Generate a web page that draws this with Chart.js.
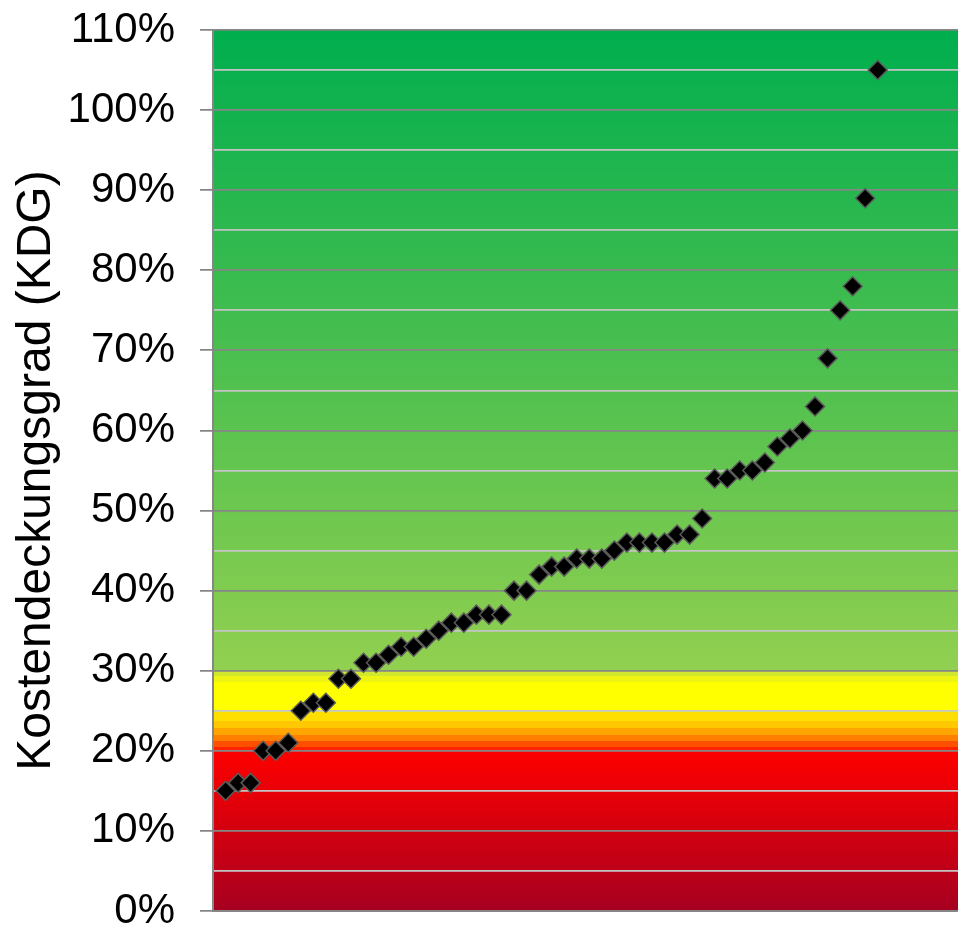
<!DOCTYPE html>
<html>
<head>
<meta charset="utf-8">
<script src="https://cdn.jsdelivr.net/npm/chart.js@4.4.1/dist/chart.umd.min.js"></script>
<style>
  html, body { margin: 0; padding: 0; background: #ffffff; }
  #wrap { width: 958px; height: 928px; position: relative; }
</style>
</head>
<body>
<div id="wrap"><canvas id="c"></canvas></div>
<script>
// KDG values (percent), sorted as in the reference
const kdgValues = [15, 16, 16, 20, 20, 21, 25, 26, 26, 29, 29, 31, 31, 32, 33, 33, 34, 35, 36, 36,
  37, 37, 37, 40, 40, 42, 43, 43, 44, 44, 44, 45, 46, 46, 46, 46, 47, 47, 49, 54,
  54, 55, 55, 56, 58, 59, 60, 63, 69, 75, 78, 89, 105];
const categories = kdgValues.map((_, i) => i + 1);
const yTickValues = [0, 10, 20, 30, 40, 50, 60, 70, 80, 90, 100, 110];
const axisTitle = 'Kostendeckungsgrad (KDG)';

// background bands: [value, colour]
const bgStops = [
  [0, '#a60021'], [10, '#d3000f'], [19.99, '#fd0000'],
  [20, '#ff2200'], [20.5, '#ff2200'], [20.5, '#ff5000'], [21.2, '#ff5000'],
  [21.2, '#ff7f00'], [22, '#ff7f00'], [22, '#ffa500'], [22.8, '#ffa500'],
  [22.8, '#ffc800'], [23.7, '#ffc800'], [23.7, '#ffdf00'], [24.8, '#ffdf00'],
  [24.8, '#ffff00'], [28.6, '#ffff00'], [28.6, '#eef512'], [29.3, '#eef512'],
  [29.3, '#d2e82c'], [29.95, '#d2e82c'], [30, '#92d050'], [110, '#00ae4e']
];

const bgPlugin = {
  id: 'bgBands',
  beforeDraw(chart) {
    const {ctx, chartArea} = chart;
    const y = chart.scales.y;
    const y0 = y.getPixelForValue(0), y1 = y.getPixelForValue(110);
    const g = ctx.createLinearGradient(0, y0, 0, y1);
    bgStops.forEach(([v, c]) => g.addColorStop(Math.min(1, Math.max(0, v / 110)), c));
    ctx.save();
    ctx.fillStyle = g;
    ctx.fillRect(chartArea.left, chartArea.top, chartArea.right - chartArea.left, chartArea.bottom - chartArea.top);
    ctx.restore();
  }
};

new Chart(document.getElementById('c'), {
  type: 'scatter',
  data: {
    datasets: [{
      data: categories.map((x, i) => ({x: x, y: kdgValues[i]})),
      pointStyle: 'rectRot',
      pointRadius: 9.5,
      pointHoverRadius: 9.5,
      backgroundColor: '#000000',
      borderColor: '#5a5a5a',
      borderWidth: 1.5
    }]
  },
  plugins: [bgPlugin],
  options: {
    responsive: true,
    maintainAspectRatio: false,
    animation: false,
    layout: { autoPadding: false, padding: { top: 30, right: 0, bottom: 17, left: 0 } },
    plugins: { legend: { display: false }, tooltip: { enabled: false } },
    scales: {
      x: {
        type: 'linear',
        min: 0,
        max: 59.4,
        ticks: { display: false },
        grid: { display: false, drawTicks: false, tickLength: 0 },
        border: { display: true, color: '#868686', width: 2 }
      },
      y: {
        min: 0,
        max: 110,
        afterFit(scale) {
          scale.width = 213;
          scale.paddingTop = 0;
          scale.paddingBottom = 0;
        },
        afterBuildTicks(scale) {
          const t = [];
          for (let v = 0; v <= 110; v += 5) t.push({value: v});
          scale.ticks = t;
        },
        ticks: {
          color: '#000000',
          padding: 25,
          font: { family: '"Liberation Sans", Arial, sans-serif', size: 42, lineHeight: 0.7 },
          callback: (v) => yTickValues.includes(v) ? v + '%' : ''
        },
        grid: {
          drawTicks: true,
          tickLength: 13,
          lineWidth: 1.75,
          color: (ctx) => (ctx.tick && ctx.tick.value % 10 === 0) ? '#868686' : '#c4c4c4',
          tickColor: (ctx) => (ctx.tick && ctx.tick.value % 10 === 0) ? '#868686' : 'rgba(0,0,0,0)'
        },
        border: { display: true, color: '#868686', width: 2 },
        title: {
          display: true,
          text: axisTitle,
          color: '#000000',
          padding: { top: 8, bottom: 0 },
          font: { family: '"Liberation Sans", Arial, sans-serif', size: 48, lineHeight: 1.2 }
        }
      }
    }
  }
});
</script>
</body>
</html>
